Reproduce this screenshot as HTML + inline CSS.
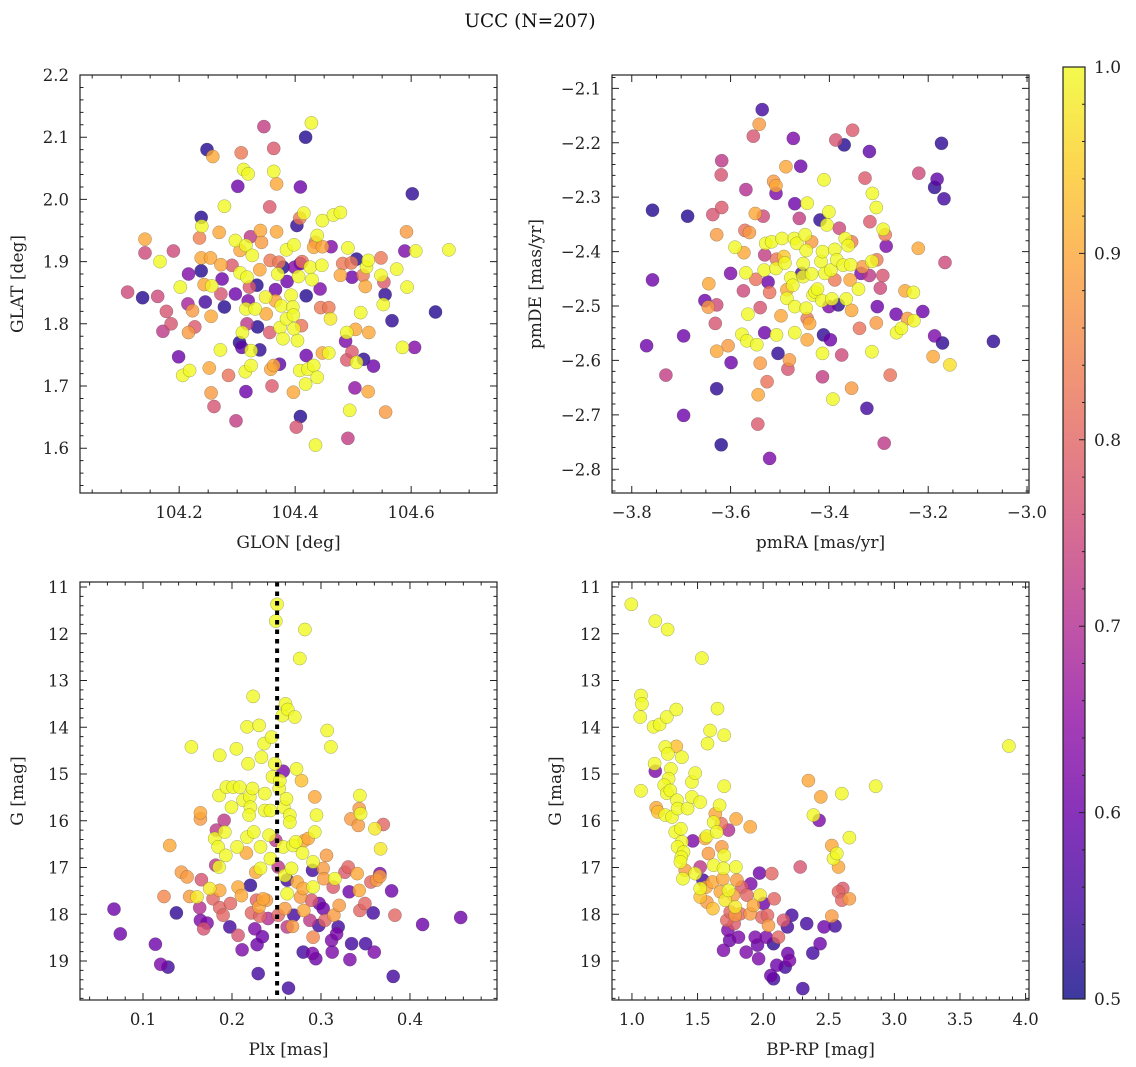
<!DOCTYPE html>
<html><head><meta charset="utf-8"><title>UCC (N=207)</title>
<style>
html,body{margin:0;padding:0;background:#fff;}
svg{display:block;font-family:"DejaVu Serif","Liberation Serif",serif;}
</style></head>
<body>
<svg id="fig" width="1136" height="1067" viewBox="0 0 1136 1067" xmlns="http://www.w3.org/2000/svg">
<text x="530" y="27" text-anchor="middle" font-size="18.5" fill="#111">UCC (N=207)</text>
</svg>
<script>
// ---------- Panel 1: GLON / GLAT ----------
const glon = [104.111,104.137,104.141,104.141,104.167,104.163,104.178,104.186,104.172,104.190,104.199,104.202,104.206,104.218,104.215,104.216,104.223,104.216,104.227,104.235,104.238,104.239,104.238,104.238,104.245,104.243,104.248,104.258,104.254,104.255,104.252,104.255,104.260,104.256,104.269,104.272,104.274,104.272,104.278,104.271,104.285,104.278,104.291,104.297,104.297,104.298,104.301,104.307,104.305,104.305,104.304,104.309,104.308,104.311,104.319,104.315,104.317,104.315,104.314,104.315,104.317,104.319,104.323,104.326,104.321,104.324,104.324,104.331,104.334,104.335,104.339,104.339,104.340,104.342,104.346,104.349,104.350,104.356,104.356,104.358,104.360,104.363,104.363,104.368,104.368,104.357,104.366,104.366,104.370,104.372,104.379,104.376,104.374,104.379,104.373,104.363,104.385,104.386,104.385,104.393,104.396,104.398,104.399,104.397,104.398,104.397,104.402,104.403,104.404,104.406,104.409,104.409,104.408,104.409,104.411,104.408,104.412,104.415,104.418,104.419,104.419,104.418,104.422,104.428,104.426,104.429,104.432,104.435,104.432,104.435,104.438,104.438,104.443,104.444,104.446,104.447,104.447,104.447,104.458,104.458,104.461,104.462,104.466,104.478,104.478,104.482,104.487,104.489,104.489,104.491,104.491,104.494,104.497,104.498,104.498,104.503,104.504,104.506,104.506,104.518,104.513,104.517,104.521,104.523,104.526,104.526,104.527,104.535,104.548,104.548,104.552,104.553,104.555,104.556,104.567,104.575,104.585,104.589,104.592,104.593,104.602,104.606,104.608,104.642,104.665];
const glat = [1.851,1.842,1.936,1.914,1.900,1.844,1.820,1.800,1.788,1.917,1.747,1.859,1.717,1.725,1.832,1.880,1.821,1.786,1.795,1.938,1.971,1.957,1.885,1.906,1.835,1.863,2.080,2.069,1.906,1.812,1.729,1.689,1.667,1.861,1.947,1.895,1.872,1.848,1.827,1.758,1.717,1.989,1.894,1.934,1.848,1.644,2.021,2.075,1.918,1.882,1.770,1.786,1.762,2.048,2.041,1.926,1.875,1.824,1.723,1.691,1.800,1.837,1.940,1.910,1.859,1.757,1.733,1.824,1.862,1.795,1.758,1.887,1.950,1.931,2.117,1.843,1.816,1.988,1.786,1.727,1.700,2.082,2.045,2.025,1.948,1.902,1.855,1.837,1.880,1.899,1.891,1.829,1.794,1.776,1.735,1.733,1.919,1.868,1.808,1.846,1.827,1.927,1.891,1.814,1.792,1.690,1.634,1.958,1.773,1.876,2.020,1.651,1.970,1.897,1.797,1.725,1.900,1.978,2.100,1.845,1.749,1.703,1.727,2.123,1.891,1.871,1.923,1.931,1.733,1.605,1.942,1.714,1.856,1.826,1.894,1.966,1.924,1.753,1.826,1.753,1.808,1.924,1.975,1.979,1.878,1.897,1.772,1.786,1.742,1.922,1.616,1.661,1.898,1.875,1.755,1.697,1.791,1.904,1.738,1.743,1.818,1.878,1.860,1.891,1.902,1.691,1.786,1.732,1.906,1.878,1.831,1.867,1.847,1.658,1.805,1.888,1.762,1.917,1.948,1.859,2.009,1.762,1.917,1.819,1.919];
const prob1 = [.75,.52,.9,.75,1,.75,.77,.77,.72,.75,.6,1,1,1,.68,.63,.88,.88,.78,.84,.52,1,.52,.9,.55,.9,.52,.9,.9,.9,.9,.88,.77,.99,.9,.9,.6,.77,.52,1,.82,1,.78,1,.6,.73,.6,.83,.9,1,.52,1,.58,1,1,1,1,1,1,.6,.72,.62,.72,1,.78,1,1,1,.52,.52,.53,.9,.9,.88,.73,.99,.9,.78,.78,.9,.78,.78,1,.9,.9,.83,.6,.9,1,.83,.52,1,1,1,.58,.9,1,.6,1,1,1,1,.63,1,1,.9,.77,.53,1,1,.6,.52,.83,.6,.82,1,.82,1,.52,.52,.6,1,1,1,1,1,.9,.83,1,1,1,1,.62,.83,1,1,.9,.9,.83,1,.98,.63,1,1,.9,.83,.62,1,.78,1,.73,1,.83,.6,.78,.65,.9,.52,1,.53,1,.83,.9,1,1,.9,.9,.6,.83,1,1,.78,.53,.88,.53,1,1,.62,.88,1,.53,.63,1,.52,1];
const xticks1 = [104.2,104.4,104.6];
const yticks1 = [1.6,1.7,1.8,1.9,2.0,2.1,2.2];

// ---------- Panel 2: pmRA / pmDE ----------
const pmra = [-3.758,-3.758,-3.770,-3.731,-3.687,-3.695,-3.695,-3.652,-3.645,-3.644,-3.628,-3.631,-3.628,-3.636,-3.628,-3.628,-3.619,-3.618,-3.619,-3.618,-3.605,-3.600,-3.599,-3.591,-3.573,-3.574,-3.569,-3.569,-3.577,-3.567,-3.565,-3.571,-3.562,-3.554,-3.550,-3.549,-3.547,-3.542,-3.540,-3.544,-3.545,-3.540,-3.536,-3.534,-3.531,-3.532,-3.531,-3.529,-3.524,-3.526,-3.521,-3.517,-3.513,-3.508,-3.508,-3.521,-3.507,-3.508,-3.507,-3.504,-3.498,-3.496,-3.492,-3.490,-3.488,-3.486,-3.486,-3.484,-3.481,-3.478,-3.474,-3.473,-3.471,-3.470,-3.470,-3.470,-3.466,-3.461,-3.458,-3.456,-3.453,-3.453,-3.449,-3.447,-3.445,-3.447,-3.445,-3.445,-3.440,-3.436,-3.436,-3.433,-3.429,-3.424,-3.419,-3.417,-3.415,-3.414,-3.414,-3.414,-3.411,-3.412,-3.409,-3.405,-3.401,-3.401,-3.398,-3.397,-3.395,-3.393,-3.389,-3.389,-3.387,-3.385,-3.382,-3.380,-3.375,-3.370,-3.372,-3.368,-3.366,-3.362,-3.358,-3.357,-3.355,-3.355,-3.355,-3.353,-3.341,-3.339,-3.336,-3.333,-3.328,-3.324,-3.319,-3.319,-3.318,-3.314,-3.313,-3.314,-3.305,-3.305,-3.304,-3.303,-3.297,-3.292,-3.289,-3.291,-3.287,-3.285,-3.277,-3.265,-3.264,-3.254,-3.247,-3.242,-3.230,-3.229,-3.220,-3.219,-3.211,-3.190,-3.187,-3.187,-3.182,-3.173,-3.171,-3.168,-3.166,-3.156,-3.068];
const pmde = [-2.324,-2.452,-2.573,-2.627,-2.335,-2.555,-2.701,-2.490,-2.502,-2.459,-2.498,-2.532,-2.583,-2.332,-2.369,-2.652,-2.755,-2.233,-2.259,-2.319,-2.573,-2.440,-2.604,-2.392,-2.402,-2.472,-2.286,-2.439,-2.552,-2.564,-2.515,-2.361,-2.365,-2.188,-2.330,-2.451,-2.571,-2.166,-2.605,-2.663,-2.717,-2.503,-2.139,-2.335,-2.406,-2.434,-2.549,-2.385,-2.456,-2.639,-2.780,-2.382,-2.271,-2.279,-2.293,-2.475,-2.414,-2.431,-2.553,-2.587,-2.518,-2.376,-2.409,-2.421,-2.244,-2.470,-2.486,-2.616,-2.599,-2.448,-2.462,-2.192,-2.376,-2.312,-2.501,-2.549,-2.385,-2.339,-2.243,-2.440,-2.422,-2.446,-2.369,-2.398,-2.311,-2.504,-2.523,-2.562,-2.532,-2.382,-2.441,-2.480,-2.474,-2.469,-2.342,-2.418,-2.490,-2.400,-2.587,-2.630,-2.268,-2.553,-2.440,-2.351,-2.327,-2.501,-2.562,-2.434,-2.487,-2.671,-2.396,-2.452,-2.195,-2.415,-2.498,-2.357,-2.590,-2.204,-2.425,-2.376,-2.487,-2.389,-2.452,-2.424,-2.382,-2.508,-2.651,-2.177,-2.469,-2.541,-2.440,-2.428,-2.265,-2.688,-2.216,-2.444,-2.345,-2.584,-2.293,-2.418,-2.319,-2.531,-2.415,-2.501,-2.467,-2.444,-2.752,-2.359,-2.369,-2.390,-2.627,-2.515,-2.549,-2.541,-2.472,-2.523,-2.475,-2.527,-2.394,-2.256,-2.510,-2.593,-2.555,-2.282,-2.267,-2.201,-2.568,-2.303,-2.420,-2.608,-2.565];
const prob2 = [.52,.6,.6,.73,.52,.6,.6,.6,.88,.9,.75,.77,.9,.77,.88,.53,.52,.72,.77,.78,.88,.62,.6,1,.9,.75,.7,1,1,1,1,.82,.88,.77,.9,.82,1,.88,.88,.9,.78,.77,.55,.75,.73,1,.6,1,.6,.82,.62,1,.88,.9,.62,.82,.82,1,1,.53,.9,1,.94,1,.9,.9,1,.77,.88,1,1,.62,1,.6,1,1,1,.73,.6,.55,1,1,1,1,1,1,.83,.9,.9,.88,1,1,1,1,.53,1,1,1,1,.73,1,.53,1,1,1,.62,.6,1,1,1,1,.83,.77,1,.53,.75,.75,.52,1,1,1,1,.9,1,.83,.9,.88,.78,1,.82,.62,.88,.78,.55,.58,.72,.78,1,1,1,1,.88,.83,.6,.75,.77,.72,1,.83,.62,.82,.6,1,1,.9,.88,1,1,.9,.75,.6,.9,.62,.53,.58,.53,.53,.55,.75,.97,.53];
const xticks2 = [-3.8,-3.6,-3.4,-3.2,-3.0];
const yticks2 = [-2.8,-2.7,-2.6,-2.5,-2.4,-2.3,-2.2,-2.1];

// ---------- Panel 3: Plx / G ----------
const plx = [0.0674,0.0745,0.1139,0.1199,0.1281,0.1300,0.1236,0.1375,0.1431,0.1495,0.1544,0.1525,0.1607,0.1645,0.1645,0.1656,0.1637,0.1645,0.1682,0.1720,0.1750,0.1787,0.1806,0.1825,0.1817,0.1844,0.1862,0.1855,0.1855,0.1862,0.1862,0.1900,0.1911,0.1919,0.1937,0.1930,0.1975,0.1982,0.1994,0.2012,0.2050,0.2057,0.2069,0.2069,0.2087,0.2106,0.2114,0.2125,0.2162,0.2170,0.2170,0.2181,0.2200,0.2207,0.2192,0.2207,0.2219,0.2230,0.2237,0.2245,0.2256,0.2267,0.2275,0.2282,0.2294,0.2305,0.2305,0.2312,0.2320,0.2320,0.2331,0.2342,0.2350,0.2361,0.2369,0.2369,0.2387,0.2406,0.2417,0.2432,0.2432,0.2444,0.2455,0.2481,0.2492,0.2492,0.2507,0.2519,0.2519,0.2530,0.2537,0.2567,0.2575,0.2575,0.2582,0.2594,0.2594,0.2601,0.2612,0.2620,0.2620,0.2620,0.2627,0.2635,0.2650,0.2650,0.2669,0.2680,0.2687,0.2695,0.2706,0.2717,0.2725,0.2732,0.2762,0.2770,0.2781,0.2792,0.2800,0.2807,0.2819,0.2800,0.2807,0.2856,0.2875,0.2894,0.2905,0.2912,0.2912,0.2912,0.2905,0.2931,0.2931,0.2942,0.2950,0.2976,0.2980,0.3025,0.3025,0.3032,0.3044,0.3062,0.3070,0.3111,0.3119,0.3126,0.3137,0.3156,0.3145,0.3175,0.3194,0.3205,0.3269,0.3306,0.3317,0.3325,0.3344,0.3336,0.3407,0.3419,0.3430,0.3437,0.3430,0.3437,0.3445,0.3494,0.3501,0.3561,0.3587,0.3599,0.3606,0.3625,0.3662,0.3662,0.3670,0.3700,0.3794,0.3812,0.3831,0.4142,0.4570];
const gmag3 = [17.89,18.42,18.64,19.07,19.13,16.53,17.62,17.97,17.10,17.20,14.42,17.62,17.63,15.83,15.96,17.26,17.86,18.13,18.31,18.19,17.45,17.67,16.38,16.20,16.95,16.56,14.60,15.46,16.99,17.49,17.86,18.02,15.99,16.24,15.28,16.74,18.27,17.77,15.71,15.28,14.46,16.56,17.42,18.45,15.28,17.60,18.76,15.56,16.69,13.99,16.35,14.78,15.49,15.71,15.88,17.38,17.97,15.31,13.34,16.24,18.31,17.10,17.70,18.65,19.27,13.96,17.84,18.04,16.56,17.02,14.64,18.48,17.67,14.35,15.42,15.78,17.70,18.09,16.31,15.78,16.81,14.21,15.06,14.78,11.73,16.42,11.37,16.99,18.02,15.31,15.14,13.75,14.94,16.56,15.71,17.17,17.88,13.50,15.53,17.27,17.56,18.27,13.62,19.58,15.88,16.03,17.02,18.26,16.53,18.02,13.78,16.45,14.89,17.31,12.53,17.63,15.14,16.69,18.81,16.43,11.91,17.45,17.92,16.38,18.13,17.70,18.84,16.88,17.42,18.49,17.06,16.24,15.49,18.95,15.88,18.24,17.77,17.88,17.02,17.24,18.13,16.74,14.07,14.42,18.56,18.81,17.42,17.24,18.02,18.42,18.27,17.81,17.10,16.99,17.52,18.97,18.63,15.96,17.13,16.10,15.74,15.46,17.49,17.92,15.85,17.77,18.63,17.31,17.97,18.81,16.17,17.27,17.13,17.19,16.60,16.08,17.50,19.33,18.02,18.22,18.07];
const prob3 = [.6,.6,.6,.62,.55,.9,.85,.53,.88,.88,1,.88,.98,.9,.88,.77,.7,.62,.77,.62,.98,.8,1,.72,.72,1,1,1,1,.9,.8,.8,.72,1,1,1,.55,.8,1,1,1,1,.9,.77,1,.9,.62,1,.9,1,1,1,1,1,1,.53,.8,1,1,1,.62,.9,.8,.6,.55,1,.9,.8,1,1,1,.6,.9,1,1,1,.88,.7,1,1,1,1,1,1,1,.72,1,.72,.8,1,1,1,.62,1,1,1,.88,1,1,.55,1,.72,1,.55,1,1,1,.88,1,.55,1,1,1,.9,1,.88,.93,1,.55,.9,1,.9,.9,.9,.72,.78,.62,1,1,.85,.55,1,.9,.6,1,.55,.6,.6,.88,.88,.8,.88,1,1,.62,.62,.78,1,.88,.62,.55,.88,.78,.8,.6,.62,.55,.88,.9,.88,.88,1,.9,.8,1,.8,.55,.8,.55,.62,.98,.88,.62,.88,.98,.8,.6,.55,.8,.6,.6];
const xticks3 = [0.1,0.2,0.3,0.4];
const gticks = [11,12,13,14,15,16,17,18,19];
const plxMedian = [0.2507];

// ---------- Panel 4: BP-RP / G ----------
const bprp = [0.995,1.178,1.272,1.533,1.069,1.076,1.063,1.069,1.165,1.211,1.266,1.338,1.173,1.178,1.185,1.198,1.254,1.274,1.297,1.279,1.246,1.266,1.292,1.254,1.305,1.338,1.381,1.343,1.348,1.330,1.373,1.381,1.348,1.393,1.376,1.369,1.388,1.406,1.424,1.457,1.457,1.482,1.520,1.464,1.482,1.520,1.541,1.520,1.520,1.566,1.571,1.576,1.596,1.571,1.558,1.583,1.614,1.617,1.622,1.622,1.635,1.647,1.652,1.668,1.673,1.680,1.685,1.693,1.698,1.703,1.703,1.703,1.711,1.723,1.731,1.736,1.736,1.744,1.749,1.698,1.774,1.779,1.787,1.787,1.792,1.794,1.800,1.812,1.825,1.838,1.871,1.876,1.901,1.901,1.906,1.926,1.939,1.957,1.965,1.977,1.972,1.990,2.003,2.023,2.033,2.041,2.058,2.066,2.079,2.079,2.084,2.104,2.117,2.155,2.168,2.185,2.188,2.201,2.218,2.282,2.302,2.332,2.345,2.383,2.378,2.426,2.434,2.439,2.464,2.523,2.523,2.548,2.536,2.561,2.574,2.574,2.599,2.607,2.599,2.657,2.657,2.858,3.873];
const gmag4 = [11.37,11.73,11.91,12.52,13.32,13.50,13.78,15.36,13.99,13.94,13.78,13.62,14.78,14.94,15.72,15.81,14.42,14.57,14.89,15.10,15.24,15.41,15.35,15.88,15.92,14.41,14.64,15.56,15.74,16.24,16.17,16.45,16.56,16.67,16.78,16.88,17.24,17.06,15.74,15.49,15.17,14.98,15.60,16.43,17.13,16.99,17.27,17.45,17.63,17.42,17.74,14.35,14.07,16.33,16.38,16.70,17.31,17.88,16.95,16.03,15.85,16.24,13.60,15.67,17.52,16.06,16.56,17.24,17.02,16.74,14.17,15.26,17.70,18.13,18.34,16.20,17.49,18.56,17.95,18.77,17.59,18.20,18.02,17.84,16.99,15.96,17.27,18.49,17.99,17.42,18.81,17.59,16.13,17.99,17.35,17.81,18.49,18.66,18.95,17.59,17.12,18.06,17.77,18.49,18.02,18.24,19.31,17.13,18.63,19.38,17.67,19.09,18.49,18.13,19.13,18.27,18.84,18.99,18.02,16.99,19.59,18.20,15.14,15.88,18.83,15.99,18.63,15.49,18.27,16.53,18.04,18.25,16.81,16.70,16.99,17.52,17.70,17.45,15.42,17.67,16.36,15.26,14.40];
const prob4 = [1,1,1,1,1,1,1,1,1,1,1,1,1,.62,.9,.93,1,1,1,1,1,1,1,1,1,.93,1,1,1,1,1,1,1,1,1,1,1,.88,1,1,1,1,1,.62,1,.72,.55,1,.93,.9,.88,1,1,1,.9,.88,.9,.93,1,1,.9,1,1,1,.9,.82,.88,.9,1,1,1,1,.98,.8,.62,.7,1,.6,.8,.62,.88,.78,.88,.98,1,.9,.88,.62,.8,.78,.62,.8,.9,.88,.62,.9,.62,.6,.62,.98,.6,.8,.6,.62,.8,.88,.6,.8,.53,.55,.8,.6,.8,.78,.55,.55,.6,.62,.55,.77,.55,.55,.9,1,.55,.62,.6,.9,.6,.9,.88,.55,1,1,.9,.8,.8,.78,1,.88,1,1,1];
const xticks4 = [1.0,1.5,2.0,2.5,3.0,3.5,4.0];

// ---------- Colorbar ----------
const cbarTicks = [0.5,0.6,0.7,0.8,0.9,1.0];
const cbarRange = [0.5,1.0];

// ================= drawing =================
const NS = 'http://www.w3.org/2000/svg';
const svg = document.getElementById('fig');
function mk(tag, attrs, parent){
  const e = document.createElementNS(NS, tag);
  for (const k in attrs) e.setAttribute(k, attrs[k]);
  (parent||svg).appendChild(e);
  return e;
}
const plasma = [[13,8,135],[65,4,157],[106,0,168],[143,13,164],[177,42,144],[204,71,120],[225,100,98],[242,132,75],[252,166,54],[252,206,37],[240,249,33]];
function cmap(v){
  let t = (v - cbarRange[0]) / (cbarRange[1] - cbarRange[0]);
  t = Math.max(0, Math.min(1, t));
  const f = t * 10, i = Math.min(9, Math.floor(f)), r = f - i;
  const a = plasma[i], b = plasma[i+1];
  return 'rgb(' + [0,1,2].map(k => Math.round(a[k] + (b[k]-a[k])*r)).join(',') + ')';
}
function fmt(v, d){ return (v < 0 ? '\u2212' : '') + Math.abs(v).toFixed(d); }

function panel(cfg){
  const {name, px0, px1, py0, py1, xlim, ylim, invertY, xs, ys, ps, xt, yt, xd, yd, xminor, yminor, xlabel, ylabel, ylabelX} = cfg;
  const g = mk('g', {});
  
  
  const sx = v => px0 + (v - xlim[0]) / (xlim[1] - xlim[0]) * (px1 - px0);
  const sy = v => invertY ? py0 + (v - ylim[0]) / (ylim[1] - ylim[0]) * (py1 - py0)
                          : py1 - (v - ylim[0]) / (ylim[1] - ylim[0]) * (py1 - py0);
  const cid = 'clip-' + name;
  const cp = mk('clipPath', {id: cid}, g);
  mk('rect', {x: px0, y: py0, width: px1 - px0, height: py1 - py0}, cp);
  const pts = mk('g', {'clip-path': 'url(#' + cid + ')'}, g);
  
  
  const n = Math.min(xs.length, ys.length, ps.length);
  const idx = [];
  for (let i = 0; i < n; i++) idx.push(i);
  idx.sort((a, b) => ps[a] - ps[b]);
  for (const i of idx){
    const c = mk('circle', {cx: sx(xs[i]).toFixed(1), cy: sy(ys[i]).toFixed(1), r: 6.6, fill: cmap(ps[i]), 'fill-opacity': 0.8, stroke: 'rgba(60,60,60,0.45)', 'stroke-width': 0.5}, pts);
    
    
  }
  if (cfg.vline){
    const l = mk('line', {x1: sx(cfg.vline[0]), x2: sx(cfg.vline[0]), y1: py0, y2: py1, stroke: '#000', 'stroke-width': 4, 'stroke-dasharray': '4.5,5'}, g);
    
    
  }
  const fr = mk('rect', {x: px0, y: py0, width: px1 - px0, height: py1 - py0, fill: 'none', stroke: '#222', 'stroke-width': 1.2}, g);
  
  
  let tp = '';
  const xmin0 = Math.ceil(xlim[0] / xminor - 1e-6), xmax0 = Math.floor(xlim[1] / xminor + 1e-6);
  for (let k = xmin0; k <= xmax0; k++){
    const v = k * xminor, X = sx(v);
    const major = xt.some(t => Math.abs(t - v) < xminor / 10);
    const L = major ? 7 : 3.5;
    tp += `M${X},${py1}v${-L}M${X},${py0}v${L}`;
  }
  const ymin0 = Math.ceil(ylim[0] / yminor - 1e-6), ymax0 = Math.floor(ylim[1] / yminor + 1e-6);
  for (let k = ymin0; k <= ymax0; k++){
    const v = k * yminor, Y = sy(v);
    const major = yt.some(t => Math.abs(t - v) < yminor / 10);
    const L = major ? 7 : 3.5;
    tp += `M${px0},${Y}h${L}M${px1},${Y}h${-L}`;
  }
  mk('path', {d: tp, stroke: '#222', 'stroke-width': 1, fill: 'none'}, g);
  for (const t of xt){
    const X = sx(t);
    if (X < px0 - 1 || X > px1 + 14) continue;
    const tx = mk('text', {x: X, y: py1 + 25, 'text-anchor': 'middle', 'font-size': 16.5, fill: '#222'}, g);
    tx.textContent = fmt(t, xd);
    
    
  }
  for (const t of yt){
    const tx = mk('text', {x: px0 - 11, y: sy(t) + 6, 'text-anchor': 'end', 'font-size': 16.5, fill: '#222'}, g);
    tx.textContent = fmt(t, yd);
    
    
  }
  const xl = mk('text', {x: (px0 + px1) / 2, y: py1 + 55, 'text-anchor': 'middle', 'font-size': 17, fill: '#222'}, g);
  xl.textContent = xlabel;
  
  
  const cy = (py0 + py1) / 2;
  const yl = mk('text', {x: ylabelX, y: cy, 'text-anchor': 'middle', 'font-size': 17, fill: '#222', transform: `rotate(-90 ${ylabelX} ${cy})`}, g);
  yl.textContent = ylabel;
  
  
}

panel({name:'glon-glat-panel', px0:80, px1:497, py0:75, py1:493, xlim:[104.029,104.748], ylim:[1.528,2.2], invertY:false,
  xs:glon, ys:glat, ps:prob1, xt:xticks1, yt:yticks1, xd:1, yd:1, xminor:0.05, yminor:0.02, xlabel:'GLON [deg]', ylabel:'GLAT [deg]', ylabelX:23});
panel({name:'pm-panel', px0:612, px1:1029, py0:75, py1:493, xlim:[-3.840,-2.996], ylim:[-2.8436,-2.0755], invertY:false,
  xs:pmra, ys:pmde, ps:prob2, xt:xticks2, yt:yticks2, xd:1, yd:1, xminor:0.05, yminor:0.02, xlabel:'pmRA [mas/yr]', ylabel:'pmDE [mas/yr]', ylabelX:541});
panel({name:'plx-g-panel', px0:80, px1:497, py0:582, py1:1000, xlim:[0.0292,0.4978], ylim:[10.893,19.834], invertY:true,
  xs:plx, ys:gmag3, ps:prob3, xt:xticks3, yt:gticks, xd:1, yd:0, xminor:0.02, yminor:0.2, xlabel:'Plx [mas]', ylabel:'G [mag]', ylabelX:23, vline:plxMedian});
panel({name:'cmd-panel', px0:612, px1:1029, py0:582, py1:1000, xlim:[0.848,4.026], ylim:[10.893,19.834], invertY:true,
  xs:bprp, ys:gmag4, ps:prob4, xt:xticks4, yt:gticks, xd:1, yd:0, xminor:0.1, yminor:0.2, xlabel:'BP-RP [mag]', ylabel:'G [mag]', ylabelX:561});

(function(){
  const x0 = 1063, x1 = 1085, y0 = 67, y1 = 999;
  const g = mk('g', {});
  
  
  const defs = mk('defs', {}, g);
  const lg = mk('linearGradient', {id: 'cbgrad', x1: 0, y1: 1, x2: 0, y2: 0}, defs);
  for (let i = 0; i <= 20; i++){
    const v = cbarRange[0] + (cbarRange[1] - cbarRange[0]) * i / 20;
    mk('stop', {offset: (i / 20), 'stop-color': cmap(v), 'stop-opacity': 0.8}, lg);
  }
  const r = mk('rect', {x: x0, y: y0, width: x1 - x0, height: y1 - y0, fill: 'url(#cbgrad)', stroke: '#222', 'stroke-width': 1.2}, g);
  
  
  const sy = v => y1 - (v - cbarRange[0]) / (cbarRange[1] - cbarRange[0]) * (y1 - y0);
  let d = '';
  for (let k = 25; k <= 50; k++){
    const v = k * 0.02, Y = sy(v);
    const major = cbarTicks.some(t => Math.abs(t - v) < 0.002);
    d += `M${x1},${Y}h${major ? -6 : -3}`;
  }
  mk('path', {d: d, stroke: '#222', 'stroke-width': 1}, g);
  for (const t of cbarTicks){
    const tx = mk('text', {x: x1 + 9, y: sy(t) + 6, 'font-size': 17, fill: '#222'}, g);
    tx.textContent = t.toFixed(1);
    
    
  }
})();
</script>
</body></html>
